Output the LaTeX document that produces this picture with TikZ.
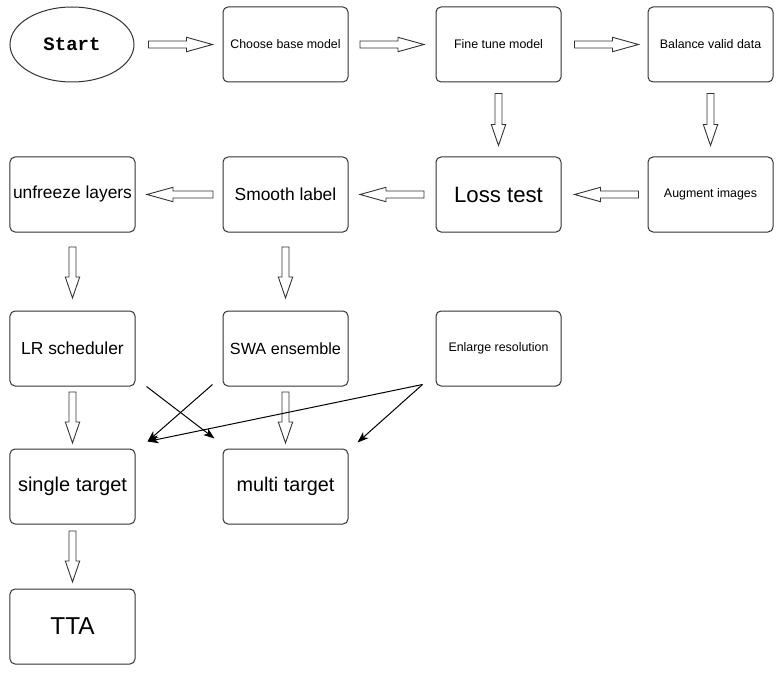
\documentclass[tikz,border=0pt]{standalone}
\usepackage{fontspec}
\setmainfont{Liberation Sans}
\newfontfamily\startfont{Liberation Mono}
\usetikzlibrary{shapes.geometric,arrows.meta,calc}
\begin{document}
\begin{tikzpicture}[x=1bp,y=-1bp,
  box/.style={draw=black!80, line width=1bp, rounded corners=5bp,
    minimum width=125bp, minimum height=75bp, inner sep=1bp, align=center,
    font=\fontsize{12.4bp}{14bp}\selectfont},
  fs/.style={font=\fontsize{#1bp}{#1bp}\selectfont},
  arrowline/.style={draw=black!80, line width=0.9bp, fill=white, line join=miter},
  pics/hollow/.style 2 args={code={
    \draw[arrowline] (-#1/2,-3.5) -- (#1/2-#2,-3.5) -- (#1/2-#2,-7.2) -- (#1/2,0)
      -- (#1/2-#2,7.2) -- (#1/2-#2,3.5) -- (-#1/2,3.5) -- cycle;
  }},
  link/.style={line width=1bp, -{Stealth[length=11bp,width=8bp,inset=3bp]}}
]
\useasboundingbox (0,0) rectangle (783,673);

% nodes
\node[ellipse, draw=black!80, line width=1bp, minimum width=124bp, minimum height=75bp,
  font=\startfont\bfseries\fontsize{19bp}{20bp}\selectfont] (start) at (72,44.5) {Start};
\node[box] (choose)  at (285.5,44.5) {Choose base model};
\node[box] (fine)    at (498.5,44.5) {Fine tune model};
\node[box] (balance) at (710.5,44.5) {Balance valid data};

\node[box, fs=17.4] (unfreeze) at (72.5,194.5) {unfreeze layers};
\node[box, fs=17.4] (smooth)   at (285.5,194.5) {Smooth label};
\node[box, fs=22.2] (loss)     at (498.5,194.5) {Loss test};
\node[box]          (augment)  at (710.5,194.5) {Augment images};

\node[box, fs=17.4] (lr)      at (72.5,348.5) {LR scheduler};
\node[box, fs=16.2] (swa)     at (285.5,348.5) {SWA ensemble};
\node[box]          (enlarge) at (498.5,348.5) {Enlarge resolution};

\node[box, fs=20]   (single) at (72.5,486.5) {single target};
\node[box, fs=19.8] (multi)  at (285.5,486.5) {multi target};

\node[box, fs=24.4] (tta) at (72.5,626.5) {TTA};

% hollow arrows, row 1
\pic (h1) at ($(start.east)!0.5!(choose.west)+(2,0)$) {hollow={64}{26}};
\pic (h2) at ($(choose.east)!0.5!(fine.west)$) {hollow={64}{26}};
\pic (h3) at ($(fine.east)!0.5!(balance.west)+(2,0)$) {hollow={64}{26}};
% down to row 2
\pic[rotate=-90] (v1) at ($(fine.south)!0.5!(loss.north)$) {hollow={52}{21}};
\pic[rotate=-90] (v2) at ($(balance.south)!0.5!(augment.north)$) {hollow={52}{21}};
% row 2 leftwards
\pic[rotate=180] (l1) at ($(augment.west)!0.5!(loss.east)+(2,0)$) {hollow={64}{26}};
\pic[rotate=180] (l2) at ($(loss.west)!0.5!(smooth.east)$) {hollow={64}{26}};
\pic[rotate=180] (l3) at ($(smooth.west)!0.5!(unfreeze.east)+(1,0)$) {hollow={66}{26}};
% down to row 3
\pic[rotate=-90] (v3) at ($(unfreeze.south)!0.5!(lr.north)+(0,1)$) {hollow={51}{21}};
\pic[rotate=-90] (v4) at ($(smooth.south)!0.5!(swa.north)+(0,1)$) {hollow={51}{21}};
% down to row 4
\pic[rotate=-90] (v5) at ($(lr.south)!0.5!(single.north)$) {hollow={51}{21}};
\pic[rotate=-90] (v6) at ($(swa.south)!0.5!(multi.north)$) {hollow={51}{21}};
% down to row 5
\pic[rotate=-90] (v7) at ($(single.south)!0.5!(tta.north)$) {hollow={51}{21}};

% thin arrows
\draw[link] ($(lr.south east)+(11,0)$) -- ($(multi.north west)+(-8,-10)$);
\draw[link] ($(swa.south west)+(-10,-2)$) -- ($(single.north east)+(12,-7)$);
\draw[link] ($(enlarge.south west)+(-13,-2)$) -- ($(single.north east)+(12,-7)$);
\draw[link] ($(enlarge.south west)+(-13,-2)$) -- ($(multi.north east)+(9,-6)$);
\end{tikzpicture}
\end{document}
